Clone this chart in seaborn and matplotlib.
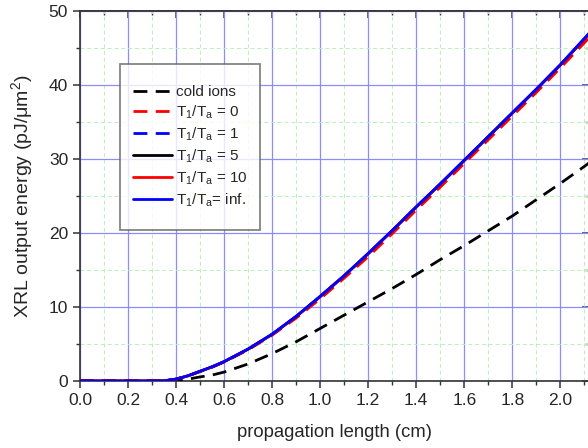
import numpy as np
import pandas as pd
import matplotlib
matplotlib.use("Agg")
import matplotlib.pyplot as plt
import seaborn as sns
from matplotlib.ticker import MultipleLocator
from matplotlib.path import Path

x = [0, 0.1, 0.2, 0.3, 0.35, 0.4, 0.45, 0.5, 0.55, 0.6, 0.7, 0.8, 0.9, 1.0,
     1.1, 1.2, 1.3, 1.4, 1.5, 1.6, 1.7, 1.8, 1.9, 2.0, 2.1, 2.15]
cold_ions = [0, 0, 0, 0, 0, 0.05, 0.25, 0.55, 0.8, 1.2, 2.3, 3.7, 5.3, 7.1,
             8.9, 10.7, 12.5, 14.4, 16.4, 18.3, 20.3, 22.3, 24.5, 26.7, 29.0, 30.2]
t_0 = [0, 0, 0, 0, 0.02, 0.24, 0.68, 1.27, 1.85, 2.55, 4.2, 6.2, 8.5, 11.1,
       13.9, 16.8, 19.9, 23.1, 26.2, 29.4, 32.6, 35.8, 39.0, 42.3, 45.7, 47.5]
t_1 = [0, 0, 0, 0, 0.02, 0.25, 0.7, 1.3, 1.9, 2.6, 4.3, 6.3, 8.7, 11.4,
       14.2, 17.2, 20.3, 23.5, 26.6, 29.8, 33.0, 36.2, 39.4, 42.7, 46.2, 48.0]
t_5 = [0, 0, 0, 0, 0.02, 0.25, 0.7, 1.3, 1.9, 2.6, 4.3, 6.3, 8.7, 11.4,
       14.2, 17.2, 20.3, 23.5, 26.6, 29.8, 33.0, 36.2, 39.4, 42.7, 46.2, 48.0]
t_10 = [0, 0, 0, 0, 0.02, 0.25, 0.7, 1.3, 1.9, 2.6, 4.3, 6.3, 8.7, 11.4,
        14.2, 17.2, 20.3, 23.5, 26.6, 29.8, 33.0, 36.2, 39.4, 42.7, 46.2, 48.0]
t_inf = [0, 0, 0, 0, 0.02, 0.26, 0.71, 1.32, 1.92, 2.62, 4.32, 6.33, 8.75, 11.45,
         14.25, 17.25, 20.35, 23.55, 26.65, 29.85, 33.05, 36.25, 39.45, 42.75, 46.3, 48.1]

labels = ["cold ions", r"$\mathregular{T_1/T_a}$ = 0", r"$\mathregular{T_1/T_a}$ = 1",
          r"$\mathregular{T_1/T_a}$ = 5", r"$\mathregular{T_1/T_a}$ = 10",
          r"$\mathregular{T_1/T_a}$= inf."]
series = [cold_ions, t_0, t_1, t_5, t_10, t_inf]
colors = ["black", "red", "blue", "black", "red", "blue"]
styles = [(0, (5, 3)), (0, (5, 3)), (0, (5, 3)), "-", "-", "-"]

sns.set_style("white")
plt.rcParams["font.family"] = ["Liberation Sans", "DejaVu Sans"]
plt.rcParams["mathtext.fontset"] = "custom"
plt.rcParams["mathtext.rm"] = "Liberation Sans"
plt.rcParams["mathtext.it"] = "Liberation Sans"

fig = plt.figure(figsize=(5.88, 4.48), dpi=100)
ax = fig.add_axes([0.136, 0.1496, 0.866, 0.8258])

for lab, ys, c, ls in zip(labels, series, colors, styles):
    df = pd.DataFrame({"x": x, "y": ys})
    sns.lineplot(data=df, x="x", y="y", ax=ax, color=c, linestyle=ls, lw=2,
                 label=lab, zorder=3)

ax.set_xlim(0, 2.12)
ax.set_ylim(0, 50)
ax.set_xticks(np.arange(0, 2.01, 0.2))
ax.set_xticklabels([f"{v:.1f}" for v in np.arange(0, 2.01, 0.2)])
ax.xaxis.set_minor_locator(MultipleLocator(0.1))
ax.yaxis.set_major_locator(MultipleLocator(10))
ax.yaxis.set_minor_locator(MultipleLocator(5))

ax.grid(which="major", color="#8c8cff", lw=0.9, ls="-", zorder=0)
ax.grid(which="minor", color="#b8f0b8", lw=0.7, ls=(0, (4, 3)), zorder=0)
ax.set_axisbelow(True)

for s in ax.spines.values():
    s.set_color("#333333")
    s.set_linewidth(1.2)

ax.tick_params(which="both", direction="out", bottom=True, left=True,
               top=False, right=False, labelsize=12.5, color="#333333")
ax.tick_params(which="major", length=5, width=1.1)
ax.tick_params(which="minor", length=3, width=1.0)

# inward ticks on top and right
sec_x = ax.secondary_xaxis("top")
sec_x.set_xticks(np.arange(0, 2.01, 0.2))
sec_x.xaxis.set_minor_locator(MultipleLocator(0.1))
sec_x.tick_params(which="both", direction="in", labeltop=False, color="#333333")
sec_x.tick_params(which="major", length=5, width=1.1)
sec_x.tick_params(which="minor", length=3, width=1.0)
sec_x.spines["top"].set_color("#333333")
sec_x.spines["top"].set_linewidth(1.2)
sec_y = ax.secondary_yaxis("right")
sec_y.yaxis.set_major_locator(MultipleLocator(10))
sec_y.yaxis.set_minor_locator(MultipleLocator(5))
sec_y.tick_params(which="both", direction="in", labelright=False, color="#333333")
sec_y.tick_params(which="major", length=5, width=1.1)
sec_y.tick_params(which="minor", length=3, width=1.0)

ax.set_xlabel("propagation length (cm)", fontsize=13.3, labelpad=12)
ax.set_ylabel(r"XRL output energy (pJ/μm$^2$)", fontsize=14, labelpad=10)


def vpad_box(x0, y0, width, height, mutation_size):
    p = 0.55 * mutation_size
    verts = [(x0, y0 - p), (x0 + width, y0 - p), (x0 + width, y0 + height + p),
             (x0, y0 + height + p), (x0, y0 - p)]
    return Path(verts, closed=True)


leg = ax.legend(loc="upper left", bbox_to_anchor=(0.0787, 0.835), fontsize=11,
                frameon=True, fancybox=False, edgecolor="#666666",
                handlelength=2.55, handletextpad=0.25, labelspacing=0.3,
                borderpad=0.85, borderaxespad=0)
leg.get_frame().set_linewidth(1.3)
leg.get_frame().set_boxstyle(vpad_box)

fig.savefig("out.png", dpi=100)
